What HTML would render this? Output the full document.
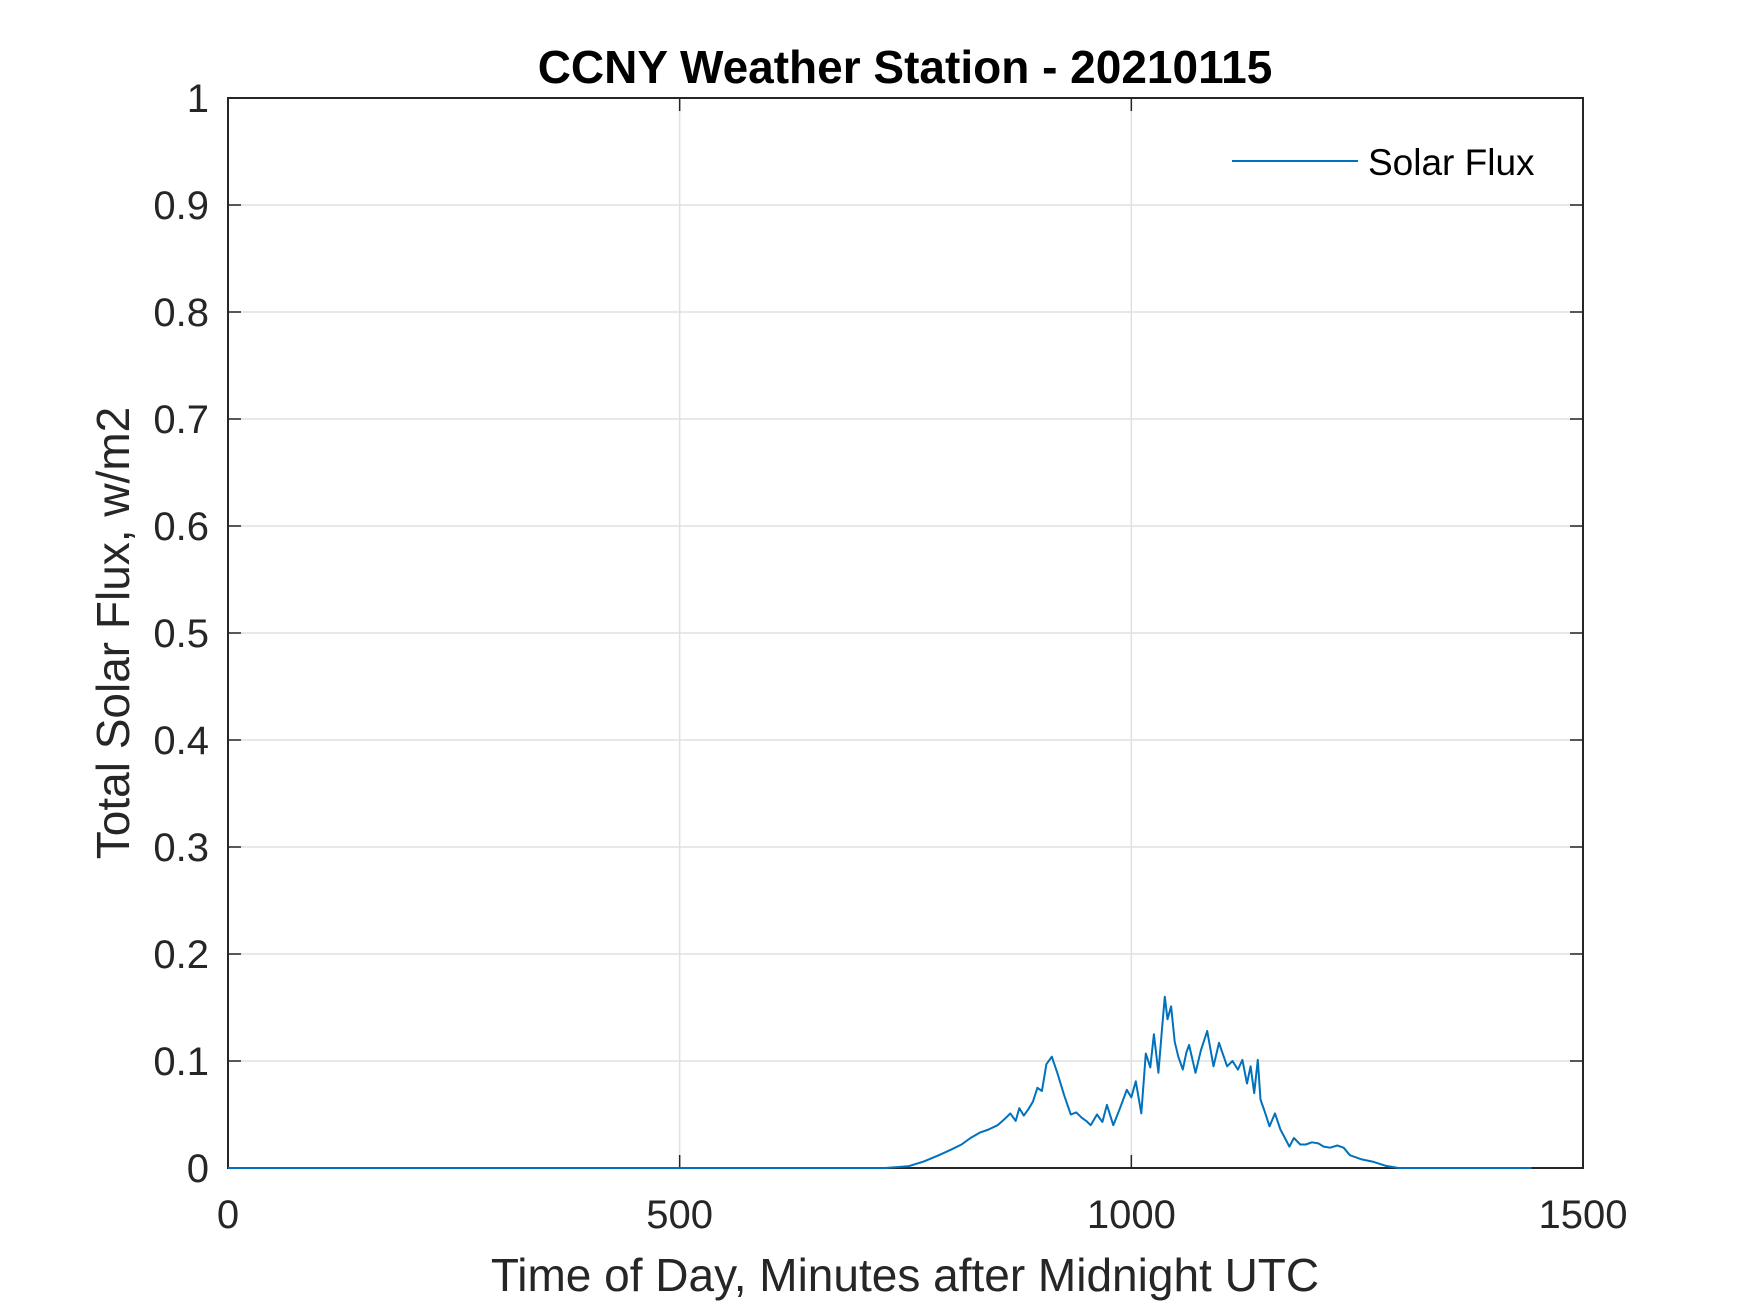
<!DOCTYPE html>
<html><head><meta charset="utf-8"><style>
html,body{margin:0;padding:0;background:#fff;}
svg{display:block;font-family:"Liberation Sans",Arial,sans-serif;}
</style></head><body>
<svg id="chart" width="1750" height="1313" viewBox="0 0 1750 1313">
<g id="grid"></g>
<g id="axes"></g>
<path id="series" fill="none" stroke="#0072BD" stroke-width="2" stroke-linejoin="round"/>
<text x="905" y="83" text-anchor="middle" font-size="46" font-weight="bold" fill="#000">CCNY Weather Station - 20210115</text>
<text x="905" y="1291" text-anchor="middle" font-size="46" fill="#262626">Time of Day, Minutes after Midnight UTC</text>
<text transform="translate(129,633) rotate(-90)" text-anchor="middle" font-size="46" fill="#262626">Total Solar Flux, w/m2</text>
<g>
<line x1="1232" y1="161" x2="1358" y2="161" stroke="#0072BD" stroke-width="2"/>
<text x="1368" y="175" font-size="37" fill="#000">Solar Flux</text>
</g>
</svg>
<script>
const xTicks = [0, 500, 1000, 1500];
const yTicks = [0, 0.1, 0.2, 0.3, 0.4, 0.5, 0.6, 0.7, 0.8, 0.9, 1];
const yTickLabels = ["0","0.1","0.2","0.3","0.4","0.5","0.6","0.7","0.8","0.9","1"];
const minutes = [0,728,753,770,787,800,812,822,832,842,852,860,866,872,876,881,886,891,896,901,906,912,918,926,933,939,945,950,955,962,968,973,980,987,995,1000,1005,1011,1016,1021,1025,1030,1034,1037,1040,1044,1048,1052,1057,1061,1064,1071,1077,1084,1091,1097,1106,1112,1118,1123,1128,1132,1136,1140,1143,1148,1153,1159,1165,1170,1175,1180,1187,1193,1200,1207,1213,1220,1228,1235,1242,1255,1267,1282,1296,1443];
const flux = [0,0,0.0016,0.006,0.012,0.017,0.022,0.028,0.033,0.036,0.040,0.046,0.051,0.044,0.056,0.049,0.055,0.062,0.075,0.072,0.097,0.104,0.089,0.067,0.050,0.052,0.047,0.044,0.040,0.050,0.043,0.059,0.040,0.055,0.073,0.066,0.081,0.051,0.107,0.094,0.125,0.089,0.130,0.160,0.139,0.151,0.118,0.104,0.092,0.108,0.115,0.089,0.110,0.128,0.095,0.117,0.095,0.100,0.092,0.101,0.079,0.095,0.070,0.101,0.064,0.052,0.039,0.051,0.036,0.028,0.020,0.028,0.022,0.022,0.024,0.023,0.020,0.019,0.021,0.019,0.012,0.008,0.006,0.002,0,0];

const L=228,R=1583,T=98,B=1168;
const xs=v=>L+(v-0)/1500*(R-L);
const ys=v=>B-(v-0)/1*(B-T);
const NS="http://www.w3.org/2000/svg";
function mk(tag,attrs,parent){const e=document.createElementNS(NS,tag);for(const k in attrs)e.setAttribute(k,attrs[k]);parent.appendChild(e);return e;}
const grid=document.getElementById('grid'), axes=document.getElementById('axes');
xTicks.forEach((t,i)=>{
  const x=xs(t);
  if(t>0&&t<1500){const g=mk('line',{x1:x,y1:T,x2:x,y2:B,stroke:'#e0e0e0','stroke-width':1.5},grid);
    
    }
  const tk=mk('line',{x1:x,y1:B,x2:x,y2:B-13,stroke:'#262626','stroke-width':1.5},axes);
  
  
  const tk2=mk('line',{x1:x,y1:T,x2:x,y2:T+13,stroke:'#262626','stroke-width':1.5},axes);
  
  
  const lb=mk('text',{x:x,y:1228,'text-anchor':'middle','font-size':40,fill:'#262626'},axes);
  lb.textContent=String(t);
  
  
});
yTicks.forEach((t,i)=>{
  const y=ys(t);
  if(t>0&&t<1){const g=mk('line',{x1:L,y1:y,x2:R,y2:y,stroke:'#e0e0e0','stroke-width':1.5},grid);
    
    }
  const tk=mk('line',{x1:L,y1:y,x2:L+13,y2:y,stroke:'#262626','stroke-width':1.5},axes);
  
  
  const tk2=mk('line',{x1:R,y1:y,x2:R-13,y2:y,stroke:'#262626','stroke-width':1.5},axes);
  
  
  const lb=mk('text',{x:209,y:y+14,'text-anchor':'end','font-size':40,fill:'#262626'},axes);
  lb.textContent=yTickLabels[i];
  
  
});
const box=mk('rect',{x:L,y:T,width:R-L,height:B-T,fill:'none',stroke:'#262626','stroke-width':2},axes);


document.getElementById('series').setAttribute('d',minutes.map((m,i)=>(i?'L':'M')+xs(m).toFixed(1)+','+ys(flux[i]).toFixed(1)).join(''));
</script>
</body></html>
